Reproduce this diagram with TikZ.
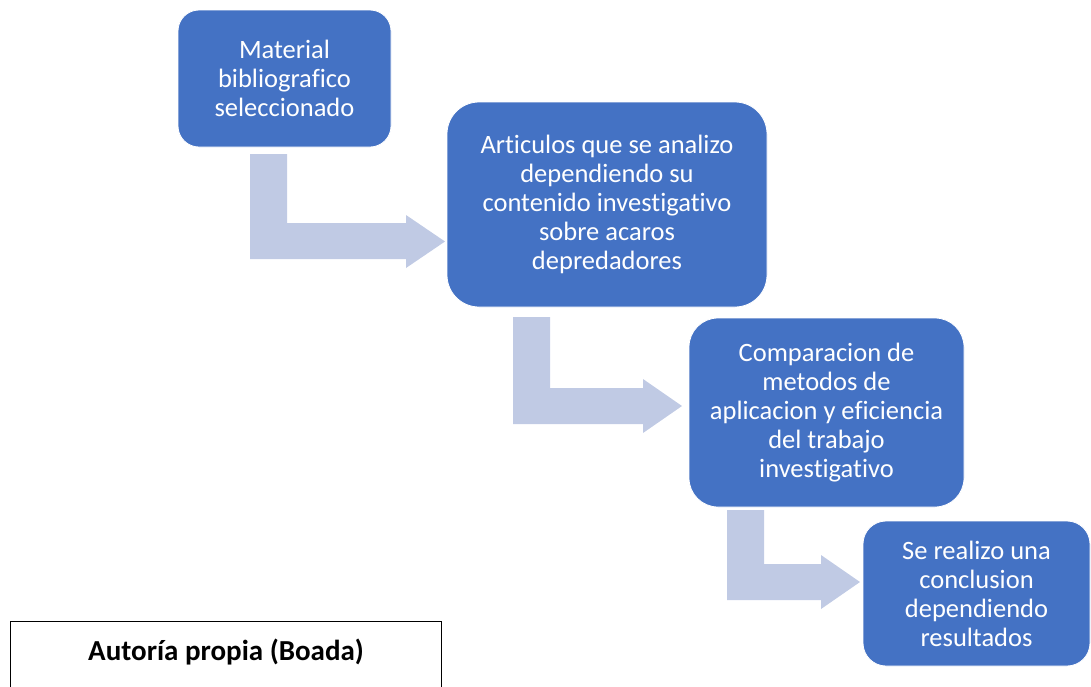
\documentclass[tikz,border=0pt]{standalone}
\usepackage{fontspec}
\setmainfont[RawFeature=-liga]{Carlito}
\definecolor{boxblue}{HTML}{4472C4}
\definecolor{arrowblue}{HTML}{C0CAE4}
\begin{document}
\begin{tikzpicture}[x=1pt,y=-1pt,
  stepbox/.style={rectangle, fill=boxblue, draw=white, line width=0.8pt,
    text=white, align=center, inner sep=0pt,
    font=\fontsize{26.5}{29}\selectfont},
  bentarrow/.style={fill=arrowblue, draw=none}]
\useasboundingbox (0,0) rectangle (1091,686);
% steps
\node[stepbox, minimum width=213pt, minimum height=137pt, rounded corners=21pt]
  (s1) at (284.5,78.5) {Material\\bibliografico\\seleccionado};
\node[stepbox, minimum width=320pt, minimum height=205pt, rounded corners=32pt]
  (s2) at (607,204.5) {Articulos que se analizo\\dependiendo su\\contenido investigativo\\sobre acaros\\depredadores};
\node[stepbox, minimum width=275pt, minimum height=189pt, rounded corners=29pt]
  (s3) at (826.5,412.5) {Comparacion de\\metodos de\\aplicacion y eficiencia\\del trabajo\\investigativo};
\node[stepbox, minimum width=227pt, minimum height=145pt, rounded corners=23pt]
  (s4) at (976.5,593.5) {Se realizo una\\conclusion\\dependiendo\\resultados};
% bent arrows
\fill[bentarrow] (250,154) -- (287,154) -- (287,223) -- (406,223) -- (406,215)
  -- (445,241.5) -- (406,268) -- (406,259) -- (250,259) -- cycle;
\fill[bentarrow] (513,317) -- (550,317) -- (550,388) -- (643,388) -- (643,379)
  -- (682,406) -- (643,433) -- (643,424) -- (513,424) -- cycle;
\fill[bentarrow] (727,510) -- (764,510) -- (764,564) -- (821,564) -- (821,555)
  -- (860,582) -- (821,609) -- (821,600) -- (727,600) -- cycle;
% caption box (open at the bottom edge of the picture)
\coordinate (cb1) at (10,700);
\coordinate (cb2) at (10,621);
\coordinate (cb3) at (441,621);
\coordinate (cb4) at (441,700);
\draw[line width=0.8pt] (cb1) -- (cb2) -- (cb3) -- (cb4);
\node[font=\fontsize{29}{33}\selectfont\bfseries] (cap) at (226,652) {Autoría propia (Boada)};
\end{tikzpicture}
\end{document}
